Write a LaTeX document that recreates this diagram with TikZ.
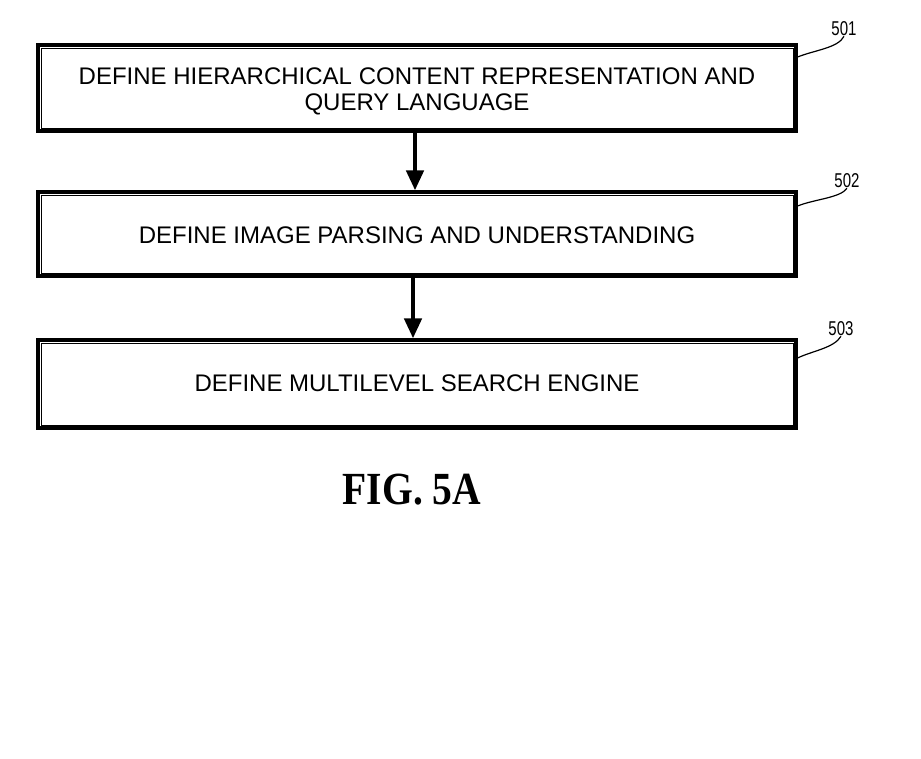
\documentclass[tikz,border=0pt]{standalone}
\usepackage{fontspec}
\setmainfont{Liberation Sans}
\newfontfamily\figfont{Liberation Serif}
\usetikzlibrary{calc,arrows.meta}
\tikzset{
  stepbox/.style={draw, line width=3.2pt, minimum width=758pt, minimum height=86pt, inner sep=0pt},
  steptext/.style={align=center, inner sep=0pt, font=\fontsize{24}{26}\selectfont},
  leader/.style={line width=1.2pt},
  reflabel/.style={font=\fontsize{20}{20}\selectfont, xscale=0.75, inner sep=0pt},
  flowarrow/.style={line width=4.5pt, -{Triangle[length=20pt,width=17pt]}}
}
\begin{document}
\begin{tikzpicture}[x=1pt,y=-1pt]
\useasboundingbox (0,0) rectangle (921,758);
\node[stepbox] (b1) at (417,88) {};
\node[stepbox, minimum height=84pt] (b2) at (417,234) {};
\node[stepbox, minimum height=88pt] (b3) at (417,384) {};
\node[steptext] (t1) at (417,91) {DEFINE HIERARCHICAL CONTENT REPRESENTATION AND\\QUERY LANGUAGE};
\node[steptext] (t2) at (417,235) {DEFINE IMAGE PARSING AND UNDERSTANDING};
\node[steptext] (t3) at (417,383) {DEFINE MULTILEVEL SEARCH ENGINE};
\foreach \b in {b1,b2,b3}{
  \draw[line width=0.7pt] ($(\b.north west)+(4.5pt,-4.5pt)$) rectangle ($(\b.south east)+(-4.5pt,4.5pt)$);
}
\draw[flowarrow] (b1.south -| 415,0) -- (b2.north -| 415,0);
\draw[flowarrow] (b2.south -| 413,0) -- (b3.north -| 413,0);
\node[reflabel] (l1) at (844,29) {501};
\node[reflabel] (l2) at (847,181) {502};
\node[reflabel] (l3) at (841,329) {503};
\coordinate (c1) at (b1.north east |- 0,57);
\coordinate (c2) at (b2.north east |- 0,206);
\coordinate (c3) at (b3.north east |- 0,358);
\draw[leader] (c1) .. controls (815,50) and (838,48) .. (l1.south);
\draw[leader] (c2) .. controls (815,199) and (840,198) .. (l2.south);
\draw[leader] (c3) .. controls (812,351) and (834,348) .. (l3.south);
\node[font=\figfont\bfseries\fontsize{46}{46}\selectfont, xscale=0.86] (fig) at (412,490) {FIG. 5A};
\end{tikzpicture}
\end{document}
